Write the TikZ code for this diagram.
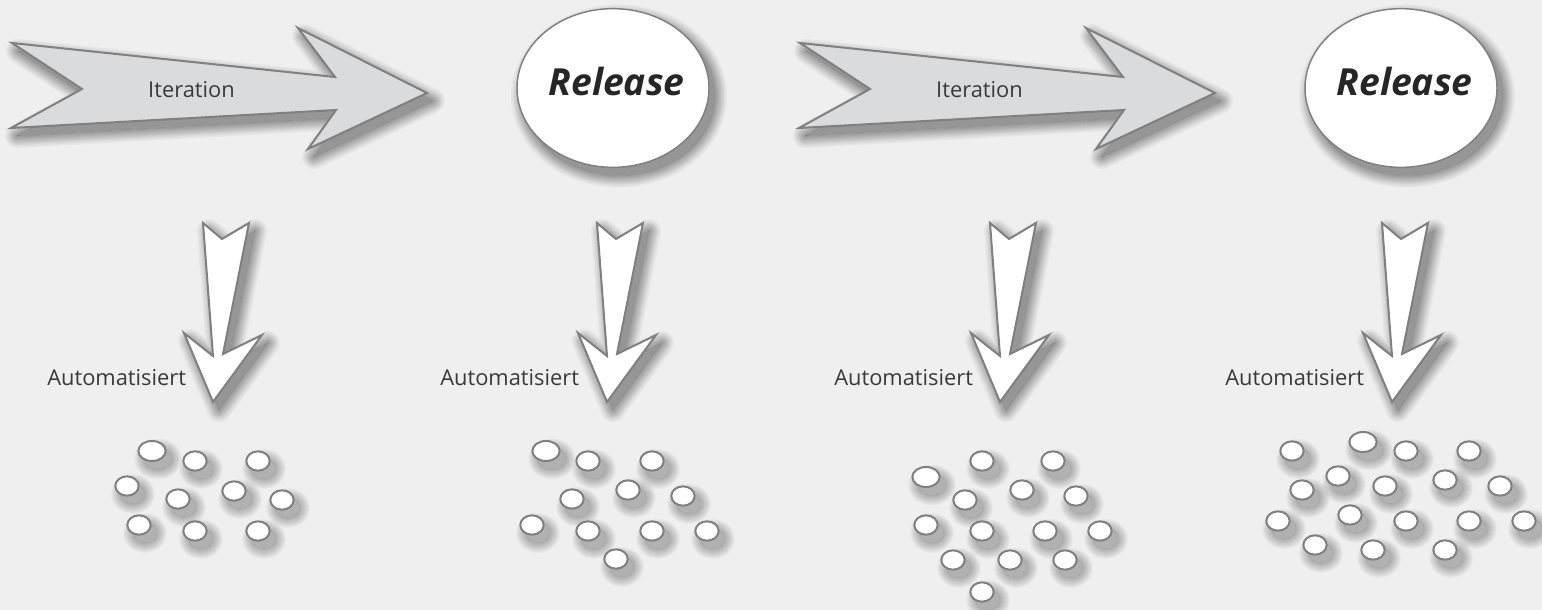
\documentclass[tikz,border=0pt]{standalone}
\usepackage{fontspec}
\setmainfont{Open Sans}
\usetikzlibrary{shapes.geometric}
\definecolor{bgc}{HTML}{EFEFEF}
\definecolor{edgec}{HTML}{808080}
\definecolor{armc}{HTML}{D9DBDD}
\definecolor{txtc}{HTML}{3A3A3A}
\tikzset{
  x=0.75pt,y=-0.75pt,
  shapeline/.style={draw=edgec,line width=1.5pt,line join=miter,miter limit=10},
  bigarrow/.style={shapeline,fill=armc},
  downarrow/.style={shapeline,fill=white},
  releasenode/.style={ellipse,shapeline,line width=1.1pt,fill=white,minimum width=144pt,minimum height=119pt,inner sep=0pt},
  dotnode/.style={ellipse,shapeline,line width=1.5pt,fill=white,minimum width=17.5pt,minimum height=14.5pt,inner sep=0pt},
  bigdot/.style={dotnode,minimum width=20.5pt,minimum height=15pt},
  lab/.style={text=txtc,font=\fontsize{16.4pt}{18pt}\selectfont,inner sep=0pt},
  rel/.style={text=black!85,font=\fontsize{28pt}{32pt}\selectfont\bfseries\itshape,inner sep=0pt},
}
% soft shadow: flat core plus strokes clipped to the outside of the shape
% #1 dx, #2 dy, #3 path, #4 layer opacity, #5 width list macro, #6 core opacity
\newcommand{\softshade}[6]{%
  \begin{scope}[shift={(#1,#2)}]
    \begin{scope}[even odd rule]
      \clip (-300,-300) rectangle (2200,1100) #3;
      \foreach \w in #5 {\draw[draw=black,draw opacity=#4,line join=round,line width=\w*0.75pt] #3;}
    \end{scope}
    \fill[black,fill opacity=#6] #3;
  \end{scope}}
\def\arrowpath{(12,43) -- (82,89) -- (11,128) -- (336,110) -- (308,149) -- (427,93) -- (298,28) -- (335,77) -- cycle}
\def\downpath{(203,223) -- (222,239) -- (249,223) -- (223,354) -- (262,335) -- (213,402) -- (184,333) -- (213,356) -- cycle}
\def\biglist{2,4,6,8,10,12,14,16,18,21,24}
\def\smalllist{2,4,6,8,10,12,14,16,18,20}
\newcommand{\bigarr}[2]{%
  \softshade{#1+6}{8}{\arrowpath}{.034}{\biglist}{.37}
  \path[bigarrow,shift={(#1,0)}] \arrowpath;
  \node[lab] (#2) at (#1+191.5,90) {Iteration};}
\newcommand{\downarr}[3]{%
  \softshade{#1+6}{8}{\downpath}{.034}{\biglist}{.37}
  \path[downarrow,shift={(#1,0)}] \downpath;
  \node[lab,anchor=west] (#3) at (#2,378) {Automatisiert};}
\def\dotlist{g1b/195/461,g1c/258/461,g1d/127/486,g1e/178/499,g1f/234/491,g1g/282/500,g1h/139/525,g1i/195/531,g1j/258/531,%
g2b/588/461,g2c/652/461,g2d/628/490,g2e/572/499,g2f/683/496,g2g/532/525,g2h/588/531,g2i/652/531,g2j/707/531,g2k/616/559,%
g3b/982/461,g3c/1053/461,g3d/1022/490,g3e/1076/496,g3f/965/500,g3g/926/525,g3h/982/531,g3i/1045/531,g3j/1100/531,g3k/953/560,g3l/1010/560,g3m/1065/560,g3n/982/592,%
g4b/1292/451,g4c/1406/451,g4d/1469/451,g4e/1338/476,g4f/1302/490,g4g/1385/486,g4h/1445/480,g4i/1500/486,g4j/1278/521,g4k/1350/515,g4l/1406/521,g4m/1469/521,g4n/1524/521,g4o/1315/545,g4p/1373/550,g4q/1445/550}
\def\bigdotlist{g1a/152/451,g2a/546/451,g3a/926/477,g4a/1363/442}
\begin{document}
\begin{tikzpicture}
\useasboundingbox (0,0) rectangle (1542,610);
\fill[bgc] (0,0) rectangle (1542,610);
\bigarr{0}{it1}
\bigarr{788}{it2}
\softshade{6}{8}{(613,88) ellipse [x radius=96,y radius=79.5]}{.034}{\biglist}{.37}
\softshade{6}{8}{(1401,88) ellipse [x radius=96,y radius=79.5]}{.034}{\biglist}{.37}
\node[releasenode] (r1) at (613,88) {};
\node[releasenode] (r2) at (1401,88) {};
\node[rel] (rt1) at (616.5,82) {Release};
\node[rel] (rt2) at (1404.5,82) {Release};
\downarr{0}{47}{a1}
\downarr{394}{440}{a2}
\downarr{787}{834}{a3}
\downarr{1179}{1225}{a4}
\foreach \n/\x/\y in \dotlist
  {\softshade{6}{8}{(\x,\y) ellipse [x radius=12,y radius=10]}{.026}{\smalllist}{.26}}
\foreach \n/\x/\y in \bigdotlist
  {\softshade{6}{8}{(\x,\y) ellipse [x radius=14,y radius=10.5]}{.026}{\smalllist}{.26}}
\foreach \n/\x/\y in \dotlist {\node[dotnode] (\n) at (\x,\y) {};}
\foreach \n/\x/\y in \bigdotlist {\node[bigdot] (\n) at (\x,\y) {};}
\end{tikzpicture}
\end{document}
